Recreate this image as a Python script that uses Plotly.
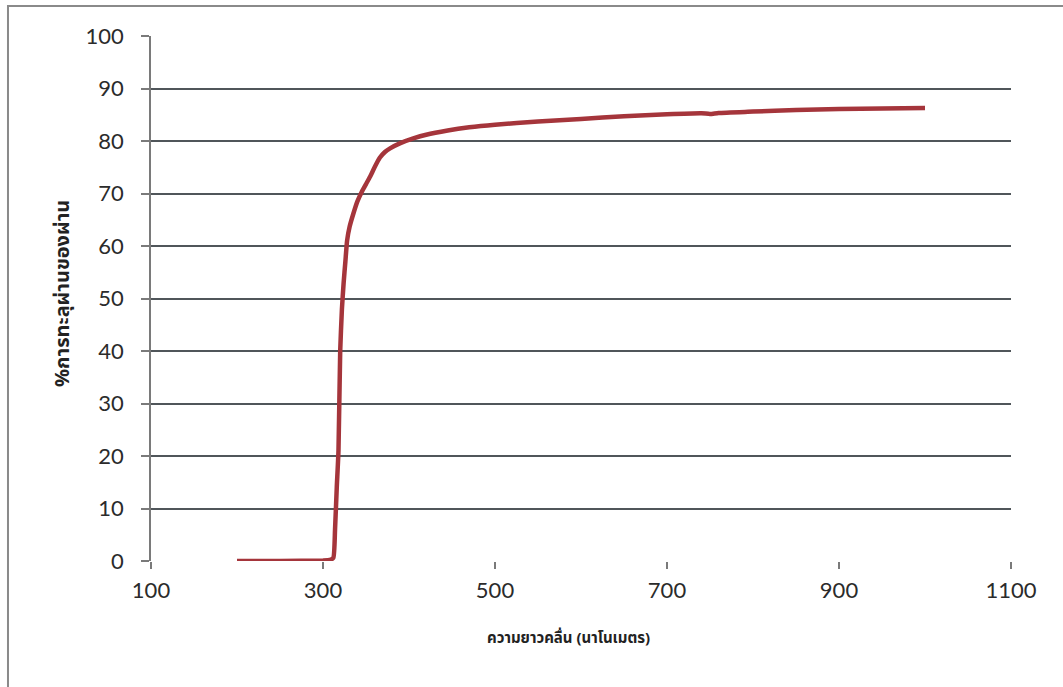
import plotly.graph_objects as go

# Transmission spectrum of the film
wavelength_nm = [200, 250, 300, 308, 312, 314, 316, 318, 320, 322, 324, 326, 328, 331,
                 335, 340, 345, 350, 355, 360, 366, 372, 378, 390, 405, 420, 445,
                 470, 500, 550, 600, 650, 700, 740, 750, 760, 800, 850, 900, 950, 1000]
transmission_pct = [0, 0, 0.1, 0.2, 0.6, 6, 14, 21, 40, 48, 53, 57, 61, 63.7,
                    66, 68.5, 70.3, 71.8, 73.3, 75.0, 76.8, 77.9, 78.6, 79.6, 80.5, 81.2, 82,
                    82.6, 83.1, 83.7, 84.2, 84.7, 85.1, 85.3, 85.15, 85.35, 85.6, 85.9, 86.1, 86.2, 86.3]

x_ticks = [100, 300, 500, 700, 900, 1100]
y_ticks = [0, 10, 20, 30, 40, 50, 60, 70, 80, 90, 100]

x_title = "ความยาวคลื่น (นาโนเมตร)"
y_title = "%การทะลุผ่านของผ่าน"

fig = go.Figure()
fig.add_trace(go.Scatter(
    x=wavelength_nm, y=transmission_pct, mode="lines",
    line=dict(color="#A5353B", width=4.5, shape="spline", smoothing=0.5),
    showlegend=False, hoverinfo="x+y",
))

tick_font = dict(family="Lato, Open Sans, sans-serif", size=22, color="#2b2b2b")
title_font_family = "Noto Sans, Noto Sans Thai, sans-serif"

fig.update_xaxes(
    range=[100, 1100], tickvals=x_ticks, ticktext=[str(v) for v in x_ticks],
    showgrid=False, zeroline=False, showline=False,
    ticks="outside", ticklen=7, tickcolor="#7a7a7a", tickwidth=1.5,
    tickfont=tick_font, ticklabelstandoff=3,
)
fig.update_yaxes(
    range=[0, 100], tickvals=y_ticks,
    showgrid=True, gridcolor="#50565a", gridwidth=1.5,
    zeroline=False, showline=True, linecolor="#7a7a7a", linewidth=1.5,
    ticks="outside", ticklen=8, tickcolor="#7a7a7a", tickwidth=1.5,
    tickfont=tick_font, ticklabelstandoff=13,
)

fig.add_annotation(text=f"<b>{x_title}</b>", xref="paper", yref="paper",
                   x=0.486, y=-0.1448, showarrow=False,
                   xanchor="center", yanchor="middle",
                   font=dict(family=title_font_family, size=15, color="#222"))
fig.add_annotation(text=f"<b>{y_title}</b>", xref="paper", yref="paper",
                   x=-0.1035, y=0.5105, showarrow=False, textangle=-90,
                   xanchor="center", yanchor="middle",
                   font=dict(family=title_font_family, size=20, color="#222"))

# outer chart frame (left and top edges visible, runs off right/bottom)
fig.add_shape(type="rect", xref="paper", yref="paper",
              x0=-0.1663, x1=1.07, y0=-0.27, y1=1.0571,
              line=dict(color="#8a8a8a", width=2), layer="below")

fig.update_layout(
    width=1063, height=687,
    margin=dict(l=151, r=52, t=36, b=126),
    plot_bgcolor="white", paper_bgcolor="white",
)

fig.write_html("out.html")
